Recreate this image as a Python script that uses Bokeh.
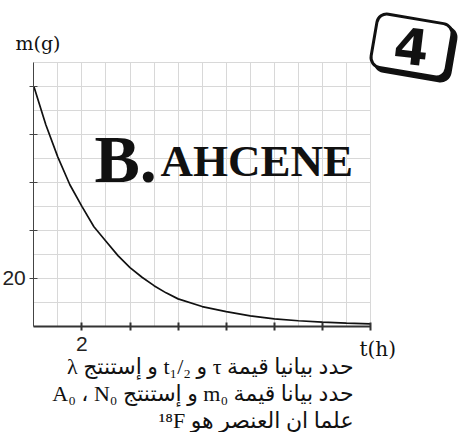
from bokeh.plotting import figure
from bokeh.models import Label, FixedTicker, LinearAxis, Grid, Rect
from bokeh.core.properties import value
from bokeh.embed import file_html
from bokeh.resources import INLINE

# ---- data ----
t_hours = [0, 0.5, 1, 1.5, 2, 2.5, 3, 3.5, 4, 4.5, 5, 5.5, 6, 7, 8, 9, 10, 11, 12, 13, 14]
mass_g = [100, 84, 70.5, 59, 50, 41.5, 35.5, 29.5, 24.5, 20.5, 17, 14, 11.5, 8.3, 6.2, 4.4, 3.2, 2.4, 1.8, 1.4, 1.1]

x_ticks = [2, 4, 6, 8, 10, 12, 14]
x_tick_labels = {2: "2", 4: "", 6: "", 8: "", 10: "", 12: "", 14: ""}
y_ticks = [20, 40, 60, 80, 100]
y_tick_labels = {20: "20", 40: "", 60: "", 80: "", 100: ""}
x_grid = list(range(0, 15))
y_grid = list(range(0, 111, 10))

x_label = "t(h)"
y_label = "m(g)"
badge = "4"
watermark_big = "B."
watermark_small = "AHCENE"
lines_ar = [
    "\u202bحدد بيانيا قيمة τ و t₁/₂ و إستنتج λ\u202c",
    "\u202bحدد بيانا قيمة m₀ و إستنتج A₀ ، N₀\u202c",
    "\u202bعلما ان العنصر هو ¹⁸F\u202c",
]

# ---- layout (pixel placement of the plotting area inside the canvas) ----
W, H = 460, 432
LEFT, RIGHT = 33.3, 370.0      # canvas px of t=0 and t=14
TOP, BOTTOM = 61.7, 326.0      # canvas px of m=110 and m=0
XMAX, YMAX = 14, 110
sx = (RIGHT - LEFT) / XMAX
sy = (BOTTOM - TOP) / YMAX
x_range = (-LEFT / sx, XMAX + (W - RIGHT) / sx)
y_range = (-(H - BOTTOM) / sy, YMAX + TOP / sy)


def fx(px):
    return (px - LEFT) / sx


def fy(py):
    return (BOTTOM - py) / sy


p = figure(width=W, height=H, x_range=x_range, y_range=y_range,
           x_axis_type=None, y_axis_type=None,
           output_backend="svg", toolbar_location=None,
           min_border_left=0, min_border_right=0, min_border_top=0, min_border_bottom=0)
p.outline_line_color = None
p.background_fill_color = "white"
p.border_fill_color = "white"

# grid
xg = Grid(dimension=0, ticker=FixedTicker(ticks=x_grid), bounds=(0, XMAX), cross_bounds=(0, YMAX),
          grid_line_color="#d8d8d8", grid_line_width=1)
yg = Grid(dimension=1, ticker=FixedTicker(ticks=y_grid), bounds=(0, YMAX), cross_bounds=(0, XMAX),
          grid_line_color="#d8d8d8", grid_line_width=1)
p.add_layout(xg, "center")
p.add_layout(yg, "center")

# axes
xaxis = LinearAxis(fixed_location=0, bounds=(0, XMAX), ticker=FixedTicker(ticks=x_ticks),
                   major_label_overrides=x_tick_labels)
yaxis = LinearAxis(fixed_location=0, bounds=(0, YMAX), ticker=FixedTicker(ticks=y_ticks),
                   major_label_overrides=y_tick_labels)
for ax in (xaxis, yaxis):
    ax.minor_tick_line_color = None
    ax.major_tick_in = 4
    ax.major_tick_out = 4
    ax.major_label_text_font = "Liberation Sans"
    ax.major_label_text_font_size = "21px"
    ax.major_label_text_color = "#222222"
xaxis.major_label_standoff = 6
yaxis.major_label_standoff = 4
xaxis.axis_line_width = 2
xaxis.axis_line_color = "#333333"
xaxis.major_tick_line_width = 2
xaxis.major_tick_line_color = "#333333"
yaxis.axis_line_width = 1
yaxis.axis_line_color = "#444444"
yaxis.major_tick_line_color = "#444444"
p.add_layout(xaxis, "below")
p.add_layout(yaxis, "left")

# curve
p.line(t_hours, mass_g, line_color="#111111", line_width=1.7)

# texts
p.add_layout(Label(x=fx(15), y=fy(42), text=y_label, text_align="left", text_baseline="middle",
                   text_font="DejaVu Serif", text_font_size="19px", text_color="#111111"))
p.add_layout(Label(x=fx(359), y=fy(348), text=x_label, text_align="left", text_baseline="middle",
                   text_font="DejaVu Serif", text_font_size="20px", text_color="#111111"))

for s, py in zip(lines_ar, [366, 393, 420]):
    p.add_layout(Label(x=fx(353), y=fy(py), text=s, text_align="right", text_baseline="middle",
                       text_font="Liberation Serif, DejaVu Sans", text_font_size="22px",
                       text_color="#111111"))

p.add_layout(Label(x=fx(94), y=fy(158), text=watermark_big, text_align="left", text_baseline="alphabetic",
                   text_font="Liberation Serif", text_font_style="bold", text_font_size="68px",
                   text_color="#111111"))
p.add_layout(Label(x=fx(160), y=fy(160), text=watermark_small, text_align="left", text_baseline="alphabetic",
                   text_font="Liberation Serif", text_font_style="bold", text_font_size="45px",
                   text_color="#111111"))

# badge: tilted rounded box with a drop shadow
rect_kw = {"border_radius": 10} if "border_radius" in Rect.properties() else {}
p.rect(x=[fx(415), fx(411)], y=[fy(49), fy(45)], width=[76, 76], height=[54, 54],
       width_units="screen", height_units="screen", angle=-0.17,
       fill_color=["#111111", "white"], line_color="#111111", line_width=3, **rect_kw)
p.text(x=[fx(411)], y=[fy(46)], text=[badge], angle=-0.12, text_align="center", text_baseline="middle",
       text_font=value("DejaVu Sans"), text_font_style="bold", text_font_size="50px",
       text_color="#111111")

open("out.html", "w").write(file_html(p, INLINE))
